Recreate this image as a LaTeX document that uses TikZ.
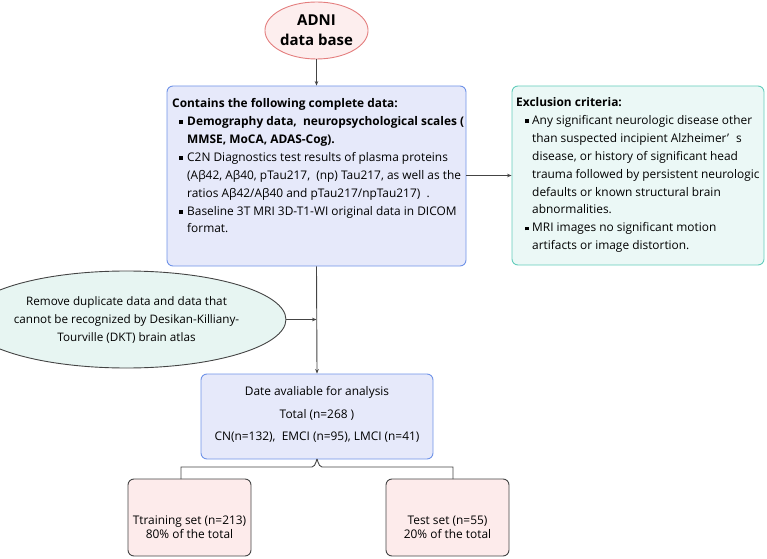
\documentclass[tikz,border=0pt]{standalone}
\usepackage{fontspec}
\setmainfont{Open Sans}
\usetikzlibrary{arrows.meta,shapes.geometric}
\definecolor{pinkfill}{HTML}{FDEEEE}
\definecolor{pinkdraw}{HTML}{E47E7E}
\definecolor{lavfill}{HTML}{E6E9FA}
\definecolor{lavdraw}{HTML}{6F93E8}
\definecolor{tealfill}{HTML}{EBF8F6}
\definecolor{tealdraw}{HTML}{63CDBC}
\definecolor{mintfill}{HTML}{E7F5F2}
\definecolor{linegrey}{HTML}{444444}
\definecolor{setfill}{HTML}{FDEBEB}
\newcommand\sqb{\makebox[8bp][l]{\raisebox{1.4bp}{\rule{3.8bp}{3.8bp}}}}
\newcommand\sqc{\makebox[7bp][l]{\raisebox{1.4bp}{\rule{3.8bp}{3.8bp}}}}
\begin{document}
\begin{tikzpicture}[x=1bp,y=-1bp,
  txt/.style={font=\fontsize{11.9bp}{17.9bp}\selectfont},
  boxbase/.style={rectangle,rounded corners=6bp,line width=0.9bp,inner sep=0pt},
  lavbox/.style={boxbase,draw=lavdraw,fill=lavfill},
  tealbox/.style={boxbase,draw=tealdraw,fill=tealfill},
  setbox/.style={boxbase,draw=linegrey,fill=setfill,minimum width=123bp,minimum height=77bp},
  conn/.style={draw=linegrey,line width=0.9bp},
  arr/.style={conn,-{Stealth[length=4.5bp,width=3.6bp]}}
]
\useasboundingbox (0,0) rectangle (767,559);

% ADNI ellipse
\node[ellipse,draw=pinkdraw,fill=pinkfill,line width=0.9bp,minimum width=96bp,minimum height=57bp,inner sep=0pt,
  align=center,font=\fontsize{15bp}{20bp}\selectfont\bfseries] (adni) at (316.5,30.5) {ADNI\\data base};

% main box
\node[lavbox,minimum width=299bp,minimum height=180bp] (main) at (316.5,176) {};
\node[txt,anchor=north west,inner sep=0pt,align=left] (maintxt) at (172,98.3) {%
\textbf{Contains the following complete data:}\\
\hspace*{7bp}\sqb\textbf{Demography data,\ \ neuropsychological scales (}\\
\hspace*{15bp}\textbf{MMSE, MoCA, ADAS-Cog).}\\
\hspace*{7bp}\sqb C2N Diagnostics test results of plasma proteins\\
\hspace*{15bp}(Aβ42, Aβ40, pTau217,\ \ (np) Tau217, as well as the\\
\hspace*{15bp}ratios Aβ42/Aβ40 and pTau217/npTau217)\ \ .\\
\hspace*{7bp}\sqb Baseline 3T MRI 3D-T1-WI original data in DICOM\\
\hspace*{15bp}format.};

% exclusion box
\node[tealbox,minimum width=252bp,minimum height=179bp] (excl) at (638,175.5) {};
\node[txt,anchor=north west,inner sep=0pt,align=left] (excltxt) at (516,97.3) {%
\textbf{Exclusion criteria:}\\
\hspace*{9bp}\sqc Any significant neurologic disease other\\
\hspace*{16bp}than suspected incipient Alzheimer’\hspace{7bp}s\\
\hspace*{16bp}disease, or history of significant head\\
\hspace*{16bp}trauma followed by persistent neurologic\\
\hspace*{16bp}defaults or known structural brain\\
\hspace*{16bp}abnormalities.\\
\hspace*{9bp}\sqc MRI images no significant motion\\
\hspace*{16bp}artifacts or image distortion.};

% left ellipse
\node[ellipse,draw=linegrey,fill=mintfill,line width=0.9bp,minimum width=247bp,minimum height=97bp,inner sep=0pt,
  align=center,font=\fontsize{11.7bp}{18bp}\selectfont] (remove) at (126.5,319.5)
  {Remove duplicate data and data that\\cannot be recognized by Desikan-Killiany-\\Tourville (DKT) brain atlas};

% analysis box
\node[lavbox,minimum width=232bp,minimum height=85bp] (anal) at (317,416.5) {};
\node[align=center,inner sep=0pt,font=\fontsize{11.9bp}{22.5bp}\selectfont] (analtxt) at (317,414.5)
  {Date avaliable for analysis\\Total (n=268 )\\CN(n=132),\ \ EMCI (n=95), LMCI (n=41)};

% set boxes
\node[setbox] (train) at (189.5,517.5) {};
\node[align=center,inner sep=0pt,font=\fontsize{11.9bp}{14bp}\selectfont] (traintxt) at (189.5,527) {Ttraining set (n=213)\\80\% of the total};
\node[setbox] (test) at (447.5,517.5) {};
\node[align=center,inner sep=0pt,font=\fontsize{11.9bp}{14bp}\selectfont] (testtxt) at (447.5,527) {Test set (n=55)\\20\% of the total};

% connectors
\draw[arr] (adni.south) -- (main.north);
\draw[arr] (main.east |- excl.west) -- (excl.west);
\draw[arr] (main.south) -- (anal.north);
\coordinate (join) at (main.south |- remove.east);
\draw[arr] (remove.east) -- (join);

% brace connector
\coordinate (bl) at (181,479);
\coordinate (br) at (453,479);
\coordinate (bh) at (0,467);
\draw[conn] (bl) -- (bl |- bh) -- ([xshift=-5bp]anal.south |- bh)
  .. controls ([xshift=-1bp]anal.south |- bh) and ([yshift=3bp]anal.south) .. (anal.south)
  .. controls ([yshift=3bp]anal.south) and ([xshift=1bp]anal.south |- bh) .. ([xshift=5bp]anal.south |- bh)
  -- (br |- bh) -- (br);
\end{tikzpicture}
\end{document}
